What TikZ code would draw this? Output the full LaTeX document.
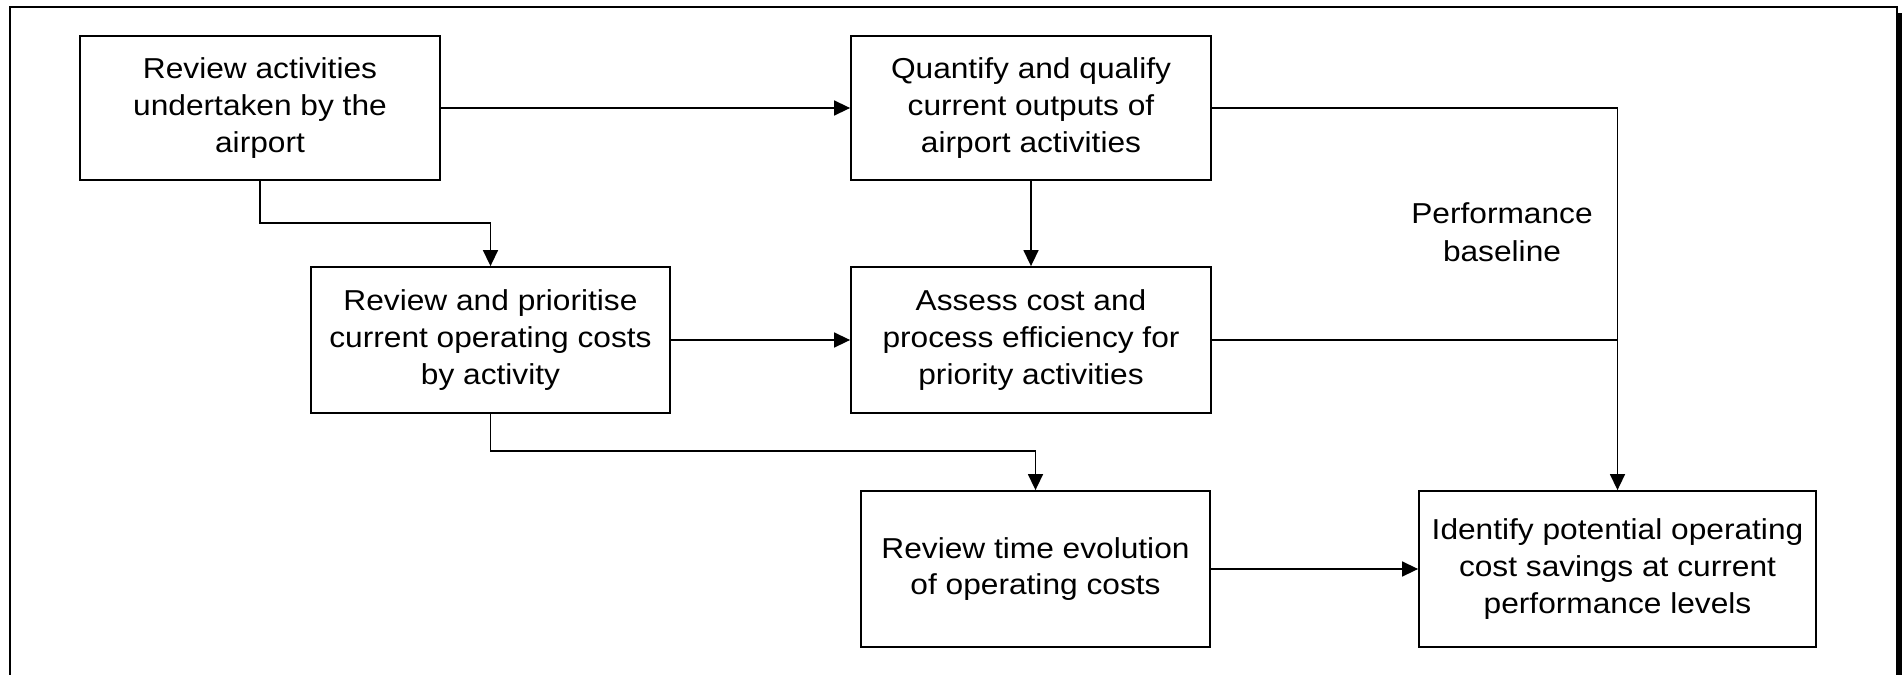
\documentclass[tikz,border=0pt]{standalone}
\usepackage{fontspec}
\setmainfont{Liberation Sans}[FakeStretch=1.1]
\usetikzlibrary{arrows.meta}

\begin{document}
\begin{tikzpicture}[x=0.5pt, y=-0.5pt, line width=0.75pt,
    >={Triangle[length=8pt,width=7.5pt]},
    box/.style={draw, line width=0.9pt, align=center, inner sep=0pt,
      font=\fontsize{14.4}{18.3}\selectfont}]
    \useasboundingbox (0,0) rectangle (1902,675);
    \clip (0,0) rectangle (1902,675);
    \draw[line width=1pt] (10,7) rectangle (1897,720);
    \fill (1898,13) rectangle (1910,720);
    \node[box, minimum width=180pt, minimum height=72pt] (a) at (260,108) {Review activities\\undertaken by the\\airport};
    \node[box, minimum width=180pt, minimum height=72pt] (b) at (1031,108) {Quantify and qualify\\current outputs of\\airport activities};
    \node[box, minimum width=179.5pt, minimum height=73pt] (c) at (490.5,340) {Review and prioritise\\current operating costs\\by activity};
    \node[box, minimum width=180pt, minimum height=73pt] (d) at (1031,340) {Assess cost and\\process efficiency for\\priority activities};
    \node[box, minimum width=174.5pt, minimum height=78pt] (e) at (1035.5,569) {Review time evolution\\of operating costs};
    \node[box, minimum width=198.5pt, minimum height=78pt] (f) at (1617.5,569) {Identify potential operating\\cost savings at current\\performance levels};
    \node[align=center, font=\fontsize{14.4}{19}\selectfont] (g) at (1502,232) {Performance\\baseline};
    \draw [->] (a) to (b);
    \draw [->] (a.south) -- ++(0,42) -| (c.north);
    \draw [->] (b) to (d);
    \draw [->] (c) to (d);
    \draw [->] (c.south) -- ++(0,37) -| (e.north);
    \draw [->] (b.east) -| (f.north);
    \draw (d.east) -- (d.east -| f.north);
    \draw [->] (e) to (f);
  \end{tikzpicture}
\end{document}
